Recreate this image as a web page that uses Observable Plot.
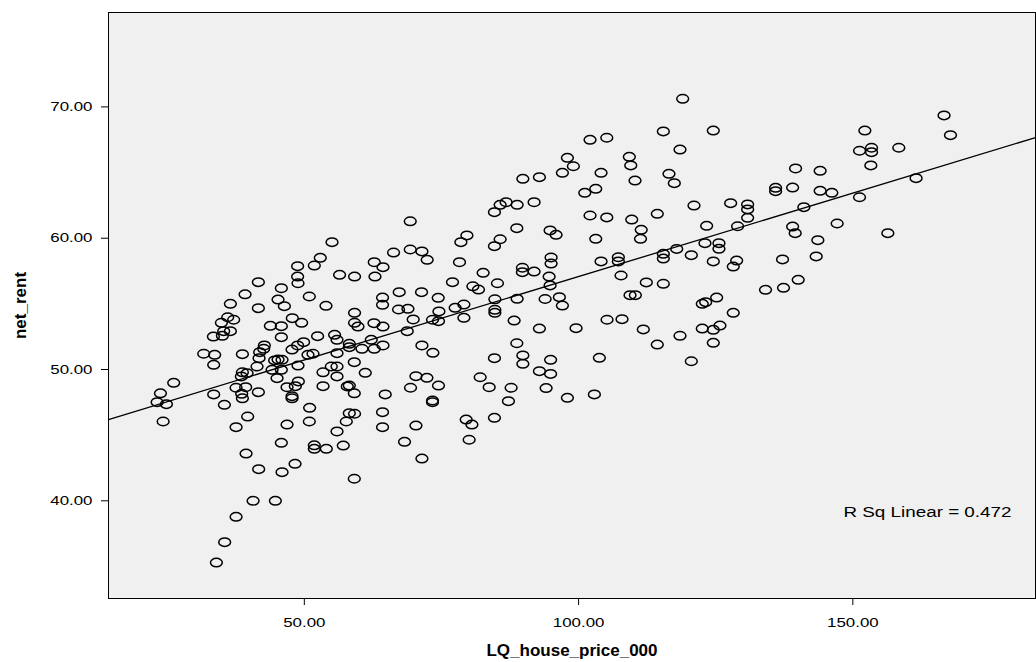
<!DOCTYPE html>
<html>
<head>
<meta charset="utf-8">
<script src="https://cdn.jsdelivr.net/npm/d3@7"></script>
<script src="https://cdn.jsdelivr.net/npm/@observablehq/plot@0.6"></script>
<style>
  html, body { margin: 0; padding: 0; background: #ffffff; }
  #chart svg { display: block; }
</style>
</head>
<body>
<div id="chart"></div>
<script>
// LQ house price (thousands) for each area
const housePrice = [
  33.97, 35.48, 37.56, 40.66, 44.72, 41.68, 45.94, 48.31, 39.38, 45.81, 51.82, 51.82, 54.01, 57.10, 24.26, 39.67, 37.56, 46.85, 50.91, 55.96, 57.65,
  58.20, 59.16, 64.26, 64.26, 70.35, 68.27, 71.44, 79.51, 80.55, 84.66, 80.05, 59.11,
  52.91, 48.78, 51.82, 56.43, 48.78, 48.85, 41.62, 45.81, 39.20, 50.91, 45.21, 36.52, 46.36, 53.95, 41.62, 47.81, 49.51, 36.03, 37.12, 34.88,
  43.81, 45.81, 36.52, 35.30, 35.06, 33.42, 45.81, 52.42, 55.52, 55.96, 49.87, 48.78, 47.76, 42.71, 42.59, 41.86, 31.66, 33.66, 38.71, 50.67,
  51.58, 55.96, 45.21, 44.59, 45.94, 41.75, 41.38, 33.48, 48.85, 44.12, 45.81, 53.41, 54.92, 55.96, 38.71, 39.56, 38.52, 45.03, 55.96, 26.19,
  23.77, 23.17, 24.86, 33.48, 37.56, 39.31, 38.58, 38.71, 41.62, 46.85, 48.91, 48.36, 47.76, 47.76, 53.41, 35.43, 50.97, 57.83,
  55.05,
  89.84, 92.86, 84.66, 85.70, 86.79, 88.80, 91.89, 69.31, 88.74, 94.81, 95.90, 79.64, 78.54, 85.70, 84.66, 66.27, 69.31, 71.44,
  118.98, 115.45, 124.56, 102.09, 105.14, 118.49, 97.96, 99.05, 97.05, 104.10, 109.25, 109.51, 110.29, 116.48, 117.45, 103.13, 101.13, 121.04,
  127.72, 130.82, 130.82, 130.82, 102.09, 105.14, 109.69, 114.35, 123.35, 128.99, 111.42, 111.29, 103.13, 123.04, 125.59, 125.59, 117.89,
  166.63, 167.80, 152.19, 158.38, 151.22, 153.41, 153.41, 153.28, 139.56, 144.04, 161.53, 135.92, 135.92, 139.02, 144.04, 146.17, 151.22, 141.07,
  139.02, 139.49, 147.14, 156.38, 143.62,
  137.18, 143.32, 140.04, 134.08, 137.36,
  72.40, 62.75, 64.34, 78.29, 59.16, 62.88, 82.60, 77.01, 85.21, 80.73, 81.75, 89.76, 89.76, 91.89, 94.99, 94.99, 94.63, 94.81, 67.30, 71.37,
  64.26, 64.26, 74.41, 84.74, 88.80, 93.90, 67.18, 68.89, 74.54, 77.50, 79.09, 84.74, 84.74, 59.16, 59.16, 59.78, 62.70, 64.34, 69.85, 73.37,
  74.46, 79.09, 88.25, 92.86, 68.76, 62.20, 58.20, 58.20, 60.51, 62.75, 64.34, 71.44, 73.44, 88.74, 59.11, 61.11, 84.66, 89.84, 89.84, 92.86,
  94.90, 94.90, 70.35, 72.35, 69.36, 74.46, 82.06, 83.70, 87.70, 94.08, 58.20, 59.11, 64.75, 73.37, 73.37, 87.21,
  104.10, 107.25, 107.25, 115.45, 115.45, 120.55, 124.56, 128.82, 128.20, 107.74, 112.35, 115.45, 96.50, 97.05, 109.38, 110.35, 122.55,
  123.17, 125.17, 128.20, 99.54, 105.19, 107.92, 111.80, 122.55, 124.56, 125.77, 118.49, 114.35, 124.56, 103.79, 120.55, 97.96, 102.88
];

// Net rent for the same areas, in the same order
const netRent = [
  35.30, 36.85, 38.78, 40.00, 40.00, 42.41, 42.18, 42.82, 43.60, 44.42, 44.23, 43.96, 43.96, 44.21, 46.04, 46.42, 45.61, 45.81, 46.04, 45.28, 46.04,
  46.67, 46.63, 46.75, 45.61, 45.73, 44.49, 43.22, 46.19, 45.81, 46.32, 44.65, 41.68,
  58.51, 57.87, 57.92, 57.21, 57.08, 56.57, 56.65, 56.19, 55.73, 55.56, 55.33, 55.00, 54.82, 54.85, 54.67, 53.91, 53.56, 53.98, 53.79, 53.56,
  53.33, 53.30, 52.92, 52.92, 52.57, 52.51, 52.46, 52.54, 52.64, 52.26, 52.08, 51.83, 51.52, 51.83, 51.58, 51.32, 51.20, 51.12, 51.17, 51.12,
  51.20, 51.24, 50.76, 50.69, 50.74, 50.86, 50.23, 50.36, 50.30, 49.98, 49.98, 49.79, 50.23, 50.23, 49.79, 49.72, 49.47, 49.34, 49.47, 48.99,
  48.19, 47.51, 47.36, 48.10, 48.61, 48.65, 48.15, 47.81, 48.27, 48.65, 49.09, 48.73, 47.97, 47.81, 48.73, 47.31, 47.08, 48.71,
  59.70,
  64.52, 64.65, 61.98, 62.54, 62.74, 62.54, 62.74, 61.29, 60.76, 60.59, 60.26, 60.21, 59.70, 59.92, 59.39, 58.91, 59.14, 58.99,
  70.62, 68.13, 68.20, 67.49, 67.65, 66.75, 66.12, 65.48, 64.98, 64.98, 66.20, 65.54, 64.39, 64.90, 64.19, 63.76, 63.46, 62.49,
  62.67, 62.57, 62.19, 61.55, 61.73, 61.58, 61.42, 61.86, 60.94, 60.91, 60.64, 59.95, 59.95, 59.62, 59.62, 59.19, 59.18,
  69.35, 67.85, 68.20, 66.89, 66.66, 66.89, 66.55, 65.54, 65.31, 65.13, 64.57, 63.84, 63.58, 63.86, 63.61, 63.46, 63.12, 62.36,
  60.89, 60.38, 61.12, 60.38, 59.85,
  58.38, 58.61, 56.83, 56.07, 56.22,
  58.35, 58.17, 57.79, 58.17, 57.08, 57.08, 57.36, 56.65, 56.57, 56.34, 56.09, 57.75, 57.41, 57.46, 58.53, 58.07, 57.08, 56.40, 55.89, 55.89,
  55.48, 54.93, 55.46, 55.35, 55.38, 55.37, 54.57, 54.62, 54.42, 54.70, 54.95, 54.55, 54.32, 54.32, 53.56, 53.27, 53.53, 53.27, 53.81, 53.79,
  53.68, 53.94, 53.73, 53.12, 52.92, 52.26, 51.96, 51.70, 51.58, 51.58, 51.83, 51.83, 51.27, 52.00, 50.56, 49.75, 50.86, 51.07, 50.43, 49.87,
  50.74, 49.66, 49.49, 49.37, 48.61, 48.78, 49.41, 48.65, 48.61, 48.59, 48.78, 48.19, 48.10, 47.64, 47.51, 47.59,
  58.23, 58.55, 58.23, 58.81, 58.45, 58.71, 58.23, 58.30, 57.84, 57.16, 56.63, 56.53, 55.51, 54.87, 55.66, 55.66, 55.00,
  55.13, 55.48, 54.32, 53.15, 53.79, 53.83, 53.05, 53.12, 53.02, 53.35, 52.57, 51.90, 52.03, 50.89, 50.63, 47.84, 48.10
];

// Fitted linear model: net_rent = intercept + slope * LQ_house_price_000
const fitIntercept = 44.37;
const fitSlope = 0.1271;
const rSquared = 0.472;

// Axis ticks and extents
const xTicks = [50, 100, 150];
const yTicks = [40, 50, 60, 70];
const xExtent = [14.3, 183.3];
const yExtent = [32.56, 77.19];

const xTitle = "LQ_house_price_000";
const yTitle = "net_rent";

const n = Math.min(housePrice.length, netRent.length);
const cases = d3.range(n).map(i => ({price: housePrice[i], rent: netRent[i]}));
const fitLine = xExtent.map(x => ({price: x, rent: fitIntercept + fitSlope * x}));

// Open, slightly flattened ring used for every case
const ring = {
  draw(context, size) {
    const rx = Math.sqrt(size / Math.PI), ry = rx * 0.72, k = 0.5523;
    context.moveTo(rx, 0);
    context.bezierCurveTo(rx, ry * k, rx * k, ry, 0, ry);
    context.bezierCurveTo(-rx * k, ry, -rx, ry * k, -rx, 0);
    context.bezierCurveTo(-rx, -ry * k, -rx * k, -ry, 0, -ry);
    context.bezierCurveTo(rx * k, -ry, rx, -ry * k, rx, 0);
    context.closePath();
  }
};

const fmt = d3.format(".2f");

const chart = Plot.plot({
  width: 1036,
  height: 662,
  marginLeft: 108,
  marginRight: 1,
  marginTop: 12,
  marginBottom: 64,
  style: {fontFamily: "'Liberation Sans', Arial, sans-serif", fontSize: "13px", background: "#ffffff", color: "#000"},
  x: {domain: xExtent},
  y: {domain: yExtent},
  marks: [
    Plot.frame({fill: "#f0f0f0"}),
    Plot.line(fitLine, {x: "price", y: "rent", stroke: "#000", strokeWidth: 1.3}),
    Plot.dot(cases, {x: "price", y: "rent", symbol: ring, r: 5.9, stroke: "#000", strokeWidth: 1.5, fill: "none"}),
    Plot.frame({stroke: "#000", strokeWidth: 1}),
    Plot.axisX({ticks: xTicks, tickFormat: fmt, tickSize: 7, tickPadding: 12, label: null, fontSize: 13}),
    Plot.axisY({ticks: yTicks, tickFormat: fmt, tickSize: 7, tickPadding: 9, label: null, fontSize: 13}),
    Plot.text([`R Sq Linear = ${rSquared.toFixed(3)}`], {frameAnchor: "bottom-right", dx: -24, dy: -86, textAnchor: "end", lineAnchor: "middle", fontSize: 14.5, className: "wide-text"}),
    Plot.text([xTitle], {frameAnchor: "bottom", dy: 52, lineAnchor: "middle", fontWeight: "bold", fontSize: 17}),
    Plot.text([yTitle], {frameAnchor: "left", dx: -88, rotate: -90, textAnchor: "middle", lineAnchor: "middle", fontWeight: "bold", fontSize: 17})
  ]
});

// Widen the tick labels and the fit annotation horizontally about their anchor points
const widen = 1.3;
const isPlain = v => v != null && v.trim() !== "" && !isNaN(+v);
d3.select(chart)
  .selectAll("g[aria-label='x-axis tick label'] text, g[aria-label='y-axis tick label'] text, .wide-text text")
  .each(function () {
    let x = 0, y = 0;
    if (isPlain(this.getAttribute("x"))) { x = +this.getAttribute("x"); this.removeAttribute("x"); }
    if (isPlain(this.getAttribute("y"))) { y = +this.getAttribute("y"); this.removeAttribute("y"); }
    const t = this.getAttribute("transform") || "";
    this.setAttribute("transform", `${t} translate(${x},${y}) scale(${widen},1)`);
  });

document.getElementById("chart").append(chart);
</script>
</body>
</html>
